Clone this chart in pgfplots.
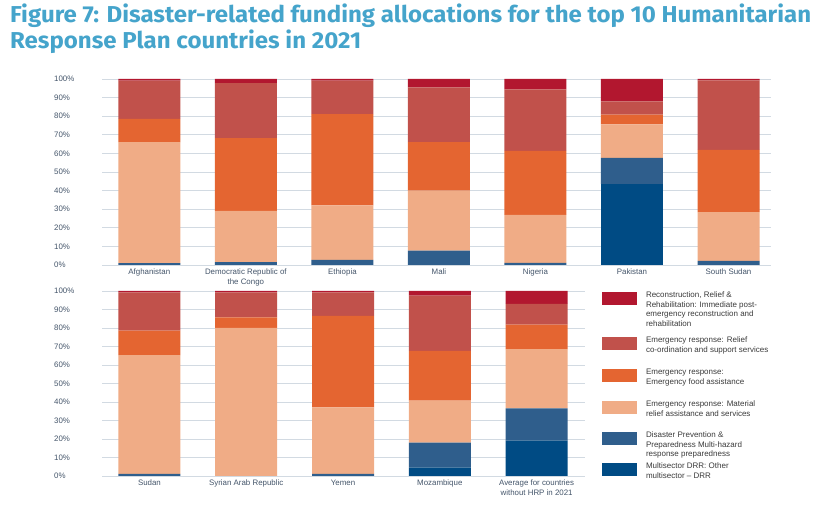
\documentclass[border=0pt]{standalone}
\usepackage{pgfplots}
\pgfplotsset{compat=1.18}
\usepackage{pgfplotstable}
\usepackage{graphicx}
\usepackage{fontspec}
\setmainfont{Liberation Sans}
\newfontfamily\titlefont{Fira Sans}
\definecolor{crecon}{HTML}{B2172F}
\definecolor{crelief}{HTML}{C1514B}
\definecolor{cfood}{HTML}{E46531}
\definecolor{cmat}{HTML}{F0AC86}
\definecolor{cprev}{HTML}{2F5E8C}
\definecolor{cmulti}{HTML}{004B84}
\definecolor{cgrid}{HTML}{D2DAE2}
\definecolor{clab}{HTML}{44556A}
\definecolor{cleg}{HTML}{3A3A3A}
\definecolor{ctitle}{HTML}{45A4CB}
\newlength\tw

\pgfplotstableread{
x multi prev mat food relief recon
0 0    1.0  65.0 12.6 20.5 0.9
1 0    1.6  27.5 39.1 29.6 2.2
2 0    2.7  29.4 49.0 18.0 0.9
3 0    7.7  32.3 26.1 29.4 4.5
4 0    1.1  25.8 34.5 33.0 5.6
5 43.6 14.0 18.0 5.2  7.2  12.0
6 0    2.2  26.2 33.5 37.4 0.7
}\toptable

\pgfplotstableread{
x multi prev mat food relief recon
0 0    1.1  64.3 13.2 20.7 0.7
1 0    0    80.0 5.8  13.5 0.7
2 0    1.1  36.0 49.4 12.8 0.7
3 4.5  13.5 22.7 26.9 29.9 2.5
4 19.1 17.5 32.0 13.2 11.2 7.0
}\bottable

\pgfplotsset{
  mybars/.style={
    ybar stacked, bar width=62pt, scale only axis,
    ymin=0, ymax=100, ytick={0,10,...,100},
    yticklabel={\pgfmathprintnumber{\tick}\%},
    /pgf/number format/assume math mode=true,
    axis line style={draw=none},
    major tick length=0pt,
    ymajorgrids, grid style={color=cgrid, line width=0.8pt},
    tick label style={font=\fontsize{7.9}{9.5}\selectfont, text=clab},
    yticklabel style={anchor=west, xshift=-48pt, inner sep=0pt},
    xticklabel style={align=center, anchor=north, inner sep=0pt, yshift=-4pt},
    xtick={0,...,6},
  },
  sw/.style 2 args={draw=none, fill=#1,
    legend image code/.code={\fill[##1,draw=none] (0pt,0pt) rectangle (35pt,-13.5pt);
      \path[draw=none,fill=none] (10pt,0pt) -- (10pt,-#2pt);}},
}

\begin{document}
\begin{tikzpicture}[x=1pt,y=1pt]
\path[use as bounding box] (0,0) rectangle (835,513);

\node[anchor=base west, inner sep=0pt, text=ctitle] at (10,490) {\titlefont\bfseries\fontsize{23}{26}\selectfont
  \settowidth{\tw}{Figure 7: Disaster-related funding allocations for the top 10 Humanitarian}%
  \pgfmathsetmacro{\tsx}{801/\tw}%
  \scalebox{\tsx}[1]{Figure 7: Disaster-related funding allocations for the top 10 Humanitarian}};
\node[anchor=base west, inner sep=0pt, text=ctitle] at (10,464) {\titlefont\bfseries\fontsize{23}{26}\selectfont
  \settowidth{\tw}{Figure 7: Disaster-related funding allocations for the top 10 Humanitarian}%
  \pgfmathsetmacro{\tsx}{801/\tw}%
  \scalebox{\tsx}[1]{Response Plan countries in 2021}};

\begin{axis}[mybars, at={(102pt,248pt)}, anchor=south west,
  width=669pt, height=186pt, xmin=-0.49, xmax=6.44,
  xticklabels={Afghanistan,{Democratic Republic of\\the Congo},Ethiopia,Mali,Nigeria,Pakistan,South Sudan}]
\addplot[sw={cmulti}{20}] table[x=x,y=multi]{\toptable};
\addplot[sw={cprev}{31}] table[x=x,y=prev]{\toptable};
\addplot[sw={cmat}{31}] table[x=x,y=mat]{\toptable};
\addplot[sw={cfood}{32}] table[x=x,y=food]{\toptable};
\addplot[sw={crelief}{32}] table[x=x,y=relief]{\toptable};
\addplot[sw={crecon}{45}] table[x=x,y=recon]{\toptable};
\end{axis}

\begin{axis}[mybars, at={(102pt,37pt)}, anchor=south west,
  width=483pt, height=185pt, xmin=-0.49, xmax=4.5,
  xtick={0,...,4},
  xticklabels={Sudan,Syrian Arab Republic,Yemen,Mozambique,{Average for countries\\without HRP in 2021}},
  reverse legend,
  legend style={at={(1.0352,0.9946)}, anchor=north west, draw=none, fill=none,
    inner sep=0pt, outer sep=0pt, row sep=0pt, column sep=9pt,
    cells={anchor=north west},
    nodes={inner sep=0pt, outer sep=0pt, text=cleg, font=\fontsize{8}{9.6}\selectfont}}]
\addplot[sw={cmulti}{20}] table[x=x,y=multi]{\bottable};
\addplot[sw={cprev}{31}] table[x=x,y=prev]{\bottable};
\addplot[sw={cmat}{31}] table[x=x,y=mat]{\bottable};
\addplot[sw={cfood}{32}] table[x=x,y=food]{\bottable};
\addplot[sw={crelief}{32}] table[x=x,y=relief]{\bottable};
\addplot[sw={crecon}{45}] table[x=x,y=recon]{\bottable};
\addlegendentry{\parbox[t]{170pt}{\raggedright Multisector DRR: Other\newline multisector -- DRR}}
\addlegendentry{\parbox[t]{170pt}{\raggedright Disaster Prevention \&\newline Preparedness Multi-hazard\newline response preparedness}}
\addlegendentry{\parbox[t]{170pt}{\raggedright Emergency response: Material\newline relief assistance and services}}
\addlegendentry{\parbox[t]{170pt}{\raggedright Emergency response:\newline Emergency food assistance}}
\addlegendentry{\parbox[t]{170pt}{\raggedright Emergency response: Relief\newline co-ordination and support services}}
\addlegendentry{\parbox[t]{170pt}{\raggedright Reconstruction, Relief \&\newline Rehabilitation: Immediate post-\newline emergency reconstruction and\newline rehabilitation}}
\end{axis}
\end{tikzpicture}
\end{document}
